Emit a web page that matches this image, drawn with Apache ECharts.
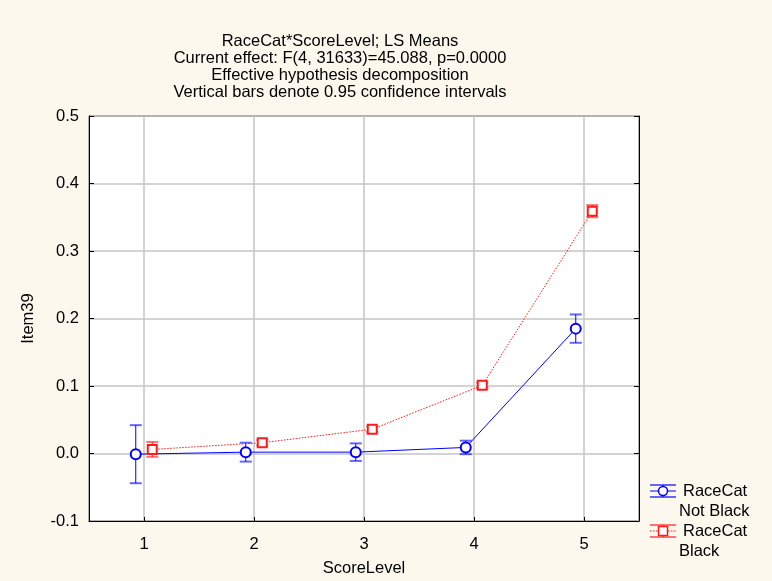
<!DOCTYPE html>
<html><head><meta charset="utf-8">
<script src="https://cdn.jsdelivr.net/npm/echarts@6/dist/echarts.min.js"></script>
<style>html,body{margin:0;padding:0;background:#FDF8EE;}#c{width:772px;height:581px;}</style>
</head><body><div id="c"></div>
<script>
const categories = [1, 2, 3, 4, 5];
const notBlackMean = [-0.001, 0.002, 0.002, 0.009, 0.185];
const notBlackHalfCI = [0.043, 0.014, 0.013, 0.010, 0.021];
const blackMean = [0.006, 0.016, 0.036, 0.101, 0.359];
const blackHalfCI = [0.011, 0.004, 0.004, 0.004, 0.009];
const yTicks = [-0.1, 0.0, 0.1, 0.2, 0.3, 0.4, 0.5];
const legendLabels = [['RaceCat', 'Not Black'], ['RaceCat', 'Black']];
const seriesNames = legendLabels.map(l => l.join(' '));
const titleLines = ['RaceCat*ScoreLevel; LS Means', 'Current effect: F(4, 31633)=45.088, p=0.0000', 'Effective hypothesis decomposition', 'Vertical bars denote 0.95 confidence intervals'];

const OFF = 0.075;
const blue = '#0000FF', red = '#FF1A1A';
const FONT = 'Liberation Sans, Arial, sans-serif';
const FS = 16.5;
function pts(mean, off) { return categories.map((c, i) => [c + off, mean[i]]); }
function bars(mean, hw, off) { return categories.map((c, i) => [c + off, mean[i] - hw[i], mean[i] + hw[i]]); }
function errRender(color) {
  return function (params, api) {
    const x = api.value(0);
    const lo = api.coord([x, api.value(1)]);
    const hi = api.coord([x, api.value(2)]);
    const w = 6;
    const st = { stroke: color, lineWidth: 1 };
    return { type: 'group', children: [
      { type: 'line', shape: { x1: lo[0], y1: lo[1], x2: hi[0], y2: hi[1] }, style: st },
      { type: 'line', shape: { x1: lo[0] - w, y1: lo[1], x2: lo[0] + w, y2: lo[1] }, style: { stroke: color, lineWidth: 2, opacity: 0.6 } },
      { type: 'line', shape: { x1: hi[0] - w, y1: hi[1], x2: hi[0] + w, y2: hi[1] }, style: { stroke: color, lineWidth: 2, opacity: 0.6 } }
    ]};
  };
}
function legendItem(x, y, color, dashed, isRect, labels) {
  const L = 26, cx = x + L / 2;
  const marker = isRect
    ? { type: 'rect', shape: { x: cx - 4.5, y: y - 4.5, width: 9, height: 9 }, style: { fill: '#FFFFFF', stroke: color, lineWidth: 1.5 } }
    : { type: 'circle', shape: { cx: cx, cy: y, r: 4.5 }, style: { fill: '#FFFFFF', stroke: color, lineWidth: 1.5 } };
  return [
    { type: 'line', shape: { x1: x, y1: y - 6, x2: x + L, y2: y - 6 }, style: { stroke: color, lineWidth: 2, opacity: 0.6 } },
    { type: 'line', shape: { x1: x, y1: y + 6, x2: x + L, y2: y + 6 }, style: { stroke: color, lineWidth: 2, opacity: 0.6 } },
    { type: 'line', shape: { x1: cx, y1: y - 6, x2: cx, y2: y + 6 }, style: { stroke: color, lineWidth: 1 } },
    { type: 'line', shape: { x1: x, y1: y, x2: x + L, y2: y }, style: { stroke: color, lineWidth: 1, lineDash: dashed ? [1.5, 1.5] : null } },
    marker,
    { type: 'text', x: x + 33, y: y, style: { text: labels[0], fill: '#000', font: FS + 'px ' + FONT, verticalAlign: 'middle' } },
    { type: 'text', x: x + 29, y: y + 20, style: { text: labels[1], fill: '#000', font: FS + 'px ' + FONT, verticalAlign: 'middle' } }
  ];
}
const chart = echarts.init(document.getElementById('c'));
chart.setOption({
  backgroundColor: '#FDF8EE',
  animation: false,
  textStyle: { fontFamily: FONT },
  title: {
    text: titleLines.join('\n'), left: 335, top: 28, textAlign: 'center',
    textStyle: { fontSize: FS, fontWeight: 'normal', color: '#000', lineHeight: 17, fontFamily: FONT }
  },
  graphic: [].concat(
    legendItem(650, 491, blue, false, false, legendLabels[0]),
    legendItem(650, 531, red, true, true, legendLabels[1])
  ),
  grid: { left: 89, right: 133, top: 116, bottom: 60, outerBoundsMode: 'none', containLabel: false, show: true, backgroundColor: '#FFFFFF', borderColor: '#000', borderWidth: 1 },
  xAxis: {
    type: 'value', min: 0.5, max: 5.5, name: 'ScoreLevel', nameLocation: 'middle', nameGap: 39,
    nameTextStyle: { fontSize: FS, color: '#000', fontFamily: FONT },
    axisLine: { onZero: false, lineStyle: { color: '#000' } },
    axisTick: { show: true, inside: true, length: 4, lineStyle: { color: '#000' } },
    axisLabel: { fontSize: FS, color: '#000', margin: 15, fontFamily: FONT, formatter: v => (categories.indexOf(v) >= 0 ? String(v) : '') },
    splitLine: { show: true, lineStyle: { color: '#C4C4C4', width: 1.5 } }
  },
  yAxis: [{
    type: 'value', min: yTicks[0], max: yTicks[yTicks.length - 1], interval: 0.1,
    name: 'Item39', nameLocation: 'middle', nameGap: 52, nameRotate: 90,
    nameTextStyle: { fontSize: FS, color: '#000', fontFamily: FONT },
    axisLine: { show: true, lineStyle: { color: '#000' } },
    axisTick: { show: true, inside: true, length: 5, lineStyle: { color: '#000' } },
    axisLabel: { fontSize: FS, color: '#000', margin: 10, fontFamily: FONT, formatter: v => v.toFixed(1) },
    splitLine: { show: true, lineStyle: { color: '#C4C4C4', width: 1.5 } }
  }, {
    type: 'value', position: 'right', min: yTicks[0], max: yTicks[yTicks.length - 1], interval: 0.1,
    axisLine: { show: true, lineStyle: { color: '#000' } },
    axisTick: { show: true, inside: true, length: 5, lineStyle: { color: '#000' } },
    axisLabel: { show: false }, splitLine: { show: false }
  }],
  series: [
    { name: seriesNames[0], type: 'line', data: pts(notBlackMean, -OFF), z: 3,
      symbol: 'emptyCircle', symbolSize: 10, lineStyle: { color: blue, width: 1 },
      itemStyle: { color: blue, borderColor: blue, borderWidth: 1.5 } },
    { name: seriesNames[1], type: 'line', data: pts(blackMean, OFF), z: 3,
      symbol: 'emptyRect', symbolSize: 9, lineStyle: { color: red, width: 1, type: [1.5, 1.5] },
      itemStyle: { color: red, borderColor: red, borderWidth: 1.5 } },
    { type: 'custom', name: 'e1', renderItem: errRender(blue), data: bars(notBlackMean, notBlackHalfCI, -OFF), z: 2, encode: { x: 0, y: [1, 2] } },
    { type: 'custom', name: 'e2', renderItem: errRender(red), data: bars(blackMean, blackHalfCI, OFF), z: 2, encode: { x: 0, y: [1, 2] } }
  ]
});
</script></body></html>
